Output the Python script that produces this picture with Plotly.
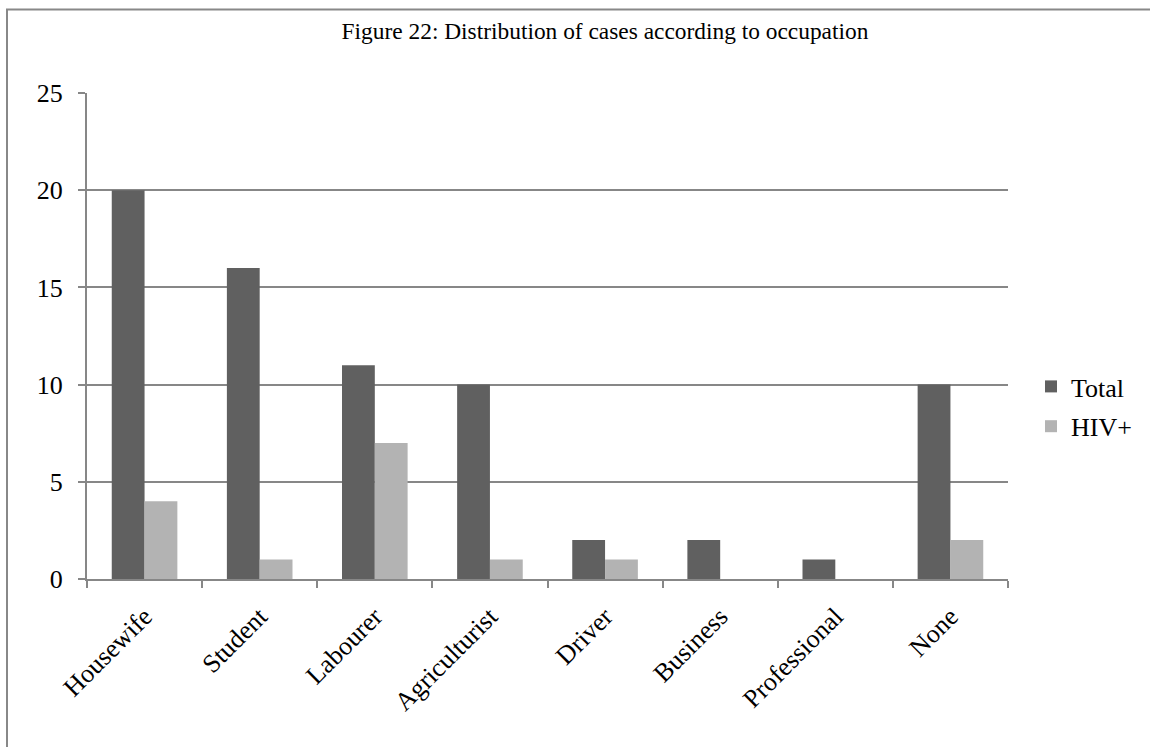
import plotly.graph_objects as go

categories = ["Housewife", "Student", "Labourer", "Agriculturist", "Driver", "Business", "Professional", "None"]
total = [20, 16, 11, 10, 2, 2, 1, 10]
hiv = [4, 1, 7, 1, 1, 0, 0, 2]
y_ticks = [0, 5, 10, 15, 20, 25]

FONT = "Liberation Serif, Times New Roman, serif"
W, H = 1150, 747
L, R, T, B = 87, 1008, 93, 579

fig = go.Figure()
fig.add_trace(go.Bar(x=categories, y=total, name="Total", marker=dict(color="#606060", line=dict(width=0)),
                     legendgroup="a"))
fig.add_trace(go.Bar(x=categories, y=hiv, name="HIV+", marker=dict(color="#b3b3b3", line=dict(width=0)),
                     legendgroup="b"))

pw = R - L
ph = B - T
def px_x(p):
    return (p - L) / pw
def px_y(p):
    return (B - p) / ph

fig.update_layout(
    width=W, height=H,
    margin=dict(l=L, r=W - R, t=T, b=H - B, pad=0),
    paper_bgcolor="white", plot_bgcolor="white",
    font=dict(family=FONT, size=26, color="black"),
    barmode="group", bargap=0.43, bargroupgap=0,
    title=dict(text="Figure 22: Distribution of cases according to occupation",
               x=605 / W, xanchor="center", y=1 - 31 / H, yanchor="middle",
               font=dict(family=FONT, size=23.4, color="black")),
    legend=dict(x=px_x(1031), y=px_y(363), xanchor="left", yanchor="top",
                font=dict(family=FONT, size=26), traceorder="grouped", tracegroupgap=3,
                bgcolor="rgba(0,0,0,0)"),
    xaxis=dict(type="category", showline=True, linecolor="#878787", linewidth=2,
               ticks="outside", tickson="boundaries", ticklen=7, tickcolor="#878787", tickwidth=2,
               tickangle=-45, showgrid=False, tickfont=dict(family=FONT, size=26),
               ticklabelstandoff=10),
    yaxis=dict(range=[0, 25], tickvals=y_ticks, showline=True, linecolor="#878787", linewidth=2,
               ticks="outside", ticklen=7, tickcolor="#878787", tickwidth=2,
               showgrid=True, gridcolor="#878787", gridwidth=2, zeroline=False,
               tickfont=dict(family=FONT, size=26), ticklabelstandoff=10),
    shapes=[
        dict(type="line", xref="paper", yref="paper", x0=px_x(6), x1=px_x(1150), y0=px_y(9.5), y1=px_y(9.5),
             line=dict(color="#888888", width=2)),
        dict(type="line", xref="paper", yref="paper", x0=px_x(7), x1=px_x(7), y0=px_y(9), y1=px_y(747),
             line=dict(color="#888888", width=2)),
    ],
)

fig.write_html("out.html")
